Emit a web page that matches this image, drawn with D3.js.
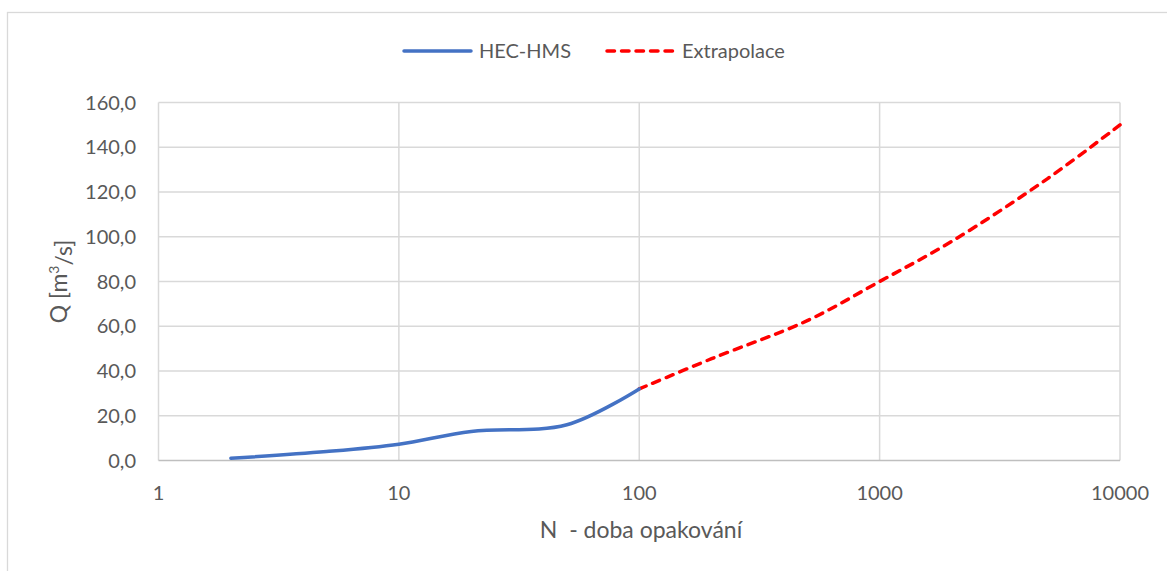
<!DOCTYPE html>
<html>
<head>
<meta charset="utf-8">
<script src="https://cdn.jsdelivr.net/npm/d3@7"></script>
<style>
  html, body { margin: 0; padding: 0; background: #fff; }
  svg { display: block; }
  text { font-family: Lato, "Open Sans", sans-serif; fill: #595959; white-space: pre; }
</style>
</head>
<body>
<script>
// ---- data ----
const hecN = [2, 5, 10, 20, 50, 100];
const hecQ = [1.0, 4.0, 7.3, 13.0, 16.0, 32.0];
const extN = [100, 200, 500, 1000, 2000, 5000, 10000];
const extQ = [32.0, 45.5, 62.5, 80.0, 98.0, 126.0, 150.0];
const xTicks = [1, 10, 100, 1000, 10000];
const yTicks = [0, 20, 40, 60, 80, 100, 120, 140, 160];
const seriesNames = ["HEC-HMS", "Extrapolace"];
const xTitle = "N  - doba opakování";

const W = 1167, H = 571;
const plot = { left: 158.5, right: 1120, top: 102.5, bottom: 460.5 };

const svg = d3.select("body").append("svg").attr("width", W).attr("height", H);

// chart border
svg.append("rect").attr("x", 7.5).attr("y", 12.5).attr("width", W + 20).attr("height", H + 20)
  .attr("fill", "#fff").attr("stroke", "#d9d9d9").attr("stroke-width", 1.3);

const x = d3.scaleLog().domain([1, 10000]).range([plot.left, plot.right]);
const y = d3.scaleLinear().domain([0, 160]).range([plot.bottom, plot.top]);

// grid
const g = svg.append("g");
g.selectAll("line.hg").data(yTicks.filter(d => d > 0)).join("line")
  .attr("x1", plot.left).attr("x2", plot.right)
  .attr("y1", d => y(d)).attr("y2", d => y(d))
  .attr("stroke", "#d9d9d9").attr("stroke-width", 1.5);
g.selectAll("line.vg").data(xTicks).join("line")
  .attr("x1", d => x(d)).attr("x2", d => x(d))
  .attr("y1", plot.top).attr("y2", plot.bottom)
  .attr("stroke", "#d9d9d9").attr("stroke-width", 1.5);
// bottom axis line
g.append("line").attr("x1", plot.left).attr("x2", plot.right)
  .attr("y1", y(0)).attr("y2", y(0)).attr("stroke", "#bfbfbf").attr("stroke-width", 1.5);

// y tick labels
const fmt = d => d3.format(".1f")(d).replace(".", ",");
svg.append("g").selectAll("text").data(yTicks).join("text")
  .attr("x", 136).attr("y", d => y(d)).attr("dy", "0.35em")
  .attr("text-anchor", "end").attr("font-size", 20).text(fmt);

// x tick labels
svg.append("g").selectAll("text").data(xTicks).join("text")
  .attr("x", d => x(d)).attr("y", 493).attr("dy", "0.35em")
  .attr("text-anchor", "middle").attr("font-size", 20).text(d => String(d));

// axis titles
svg.append("text").attr("x", 641).attr("y", 530).attr("dy", "0.35em")
  .attr("text-anchor", "middle").attr("font-size", 23).text(xTitle);
const yt = svg.append("text").attr("transform", "translate(59,281.5) rotate(-90)")
  .attr("dy", "0.35em").attr("text-anchor", "middle").attr("font-size", 23);
yt.append("tspan").text("Q [m");
yt.append("tspan").attr("font-size", 14).attr("dy", "-0.6em").text("3");
yt.append("tspan").attr("dy", "0.6em").text("/s]");

// lines
const line = d3.line().x(d => x(d[0])).y(d => y(d[1])).curve(d3.curveCatmullRom.alpha(0.5));
const hecData = hecN.map((n, i) => [n, hecQ[i]]);
const extData = extN.map((n, i) => [n, extQ[i]]);

const dashA = 7.5, dashB = 7;
const ext = svg.append("path").datum(extData).attr("d", line).attr("fill", "none")
  .attr("stroke", "#ff0000").attr("stroke-width", 3.5).attr("stroke-linecap", "round");
const len = ext.node().getTotalLength();
const nDash = Math.round((len + dashB) / (dashA + dashB));
const gapAdj = (len - nDash * dashA) / (nDash - 1);
ext.attr("stroke-dasharray", dashA + "," + gapAdj);

svg.append("path").datum(hecData).attr("d", line).attr("fill", "none")
  .attr("stroke", "#4472c4").attr("stroke-width", 3.5).attr("stroke-linecap", "round");

// legend
const lg = svg.append("g");
lg.append("line").attr("x1", 404).attr("x2", 471).attr("y1", 51).attr("y2", 51)
  .attr("stroke", "#4472c4").attr("stroke-width", 3.5).attr("stroke-linecap", "round");
lg.append("text").attr("x", 479).attr("y", 51).attr("dy", "0.35em").attr("font-size", 20).text(seriesNames[0]);
lg.append("line").attr("x1", 607).attr("x2", 675).attr("y1", 51).attr("y2", 51)
  .attr("stroke", "#ff0000").attr("stroke-width", 3.5)
  .attr("stroke-dasharray", dashA + "," + dashB).attr("stroke-linecap", "round");
lg.append("text").attr("x", 682).attr("y", 51).attr("dy", "0.35em").attr("font-size", 20).text(seriesNames[1]);
</script>
</body>
</html>
